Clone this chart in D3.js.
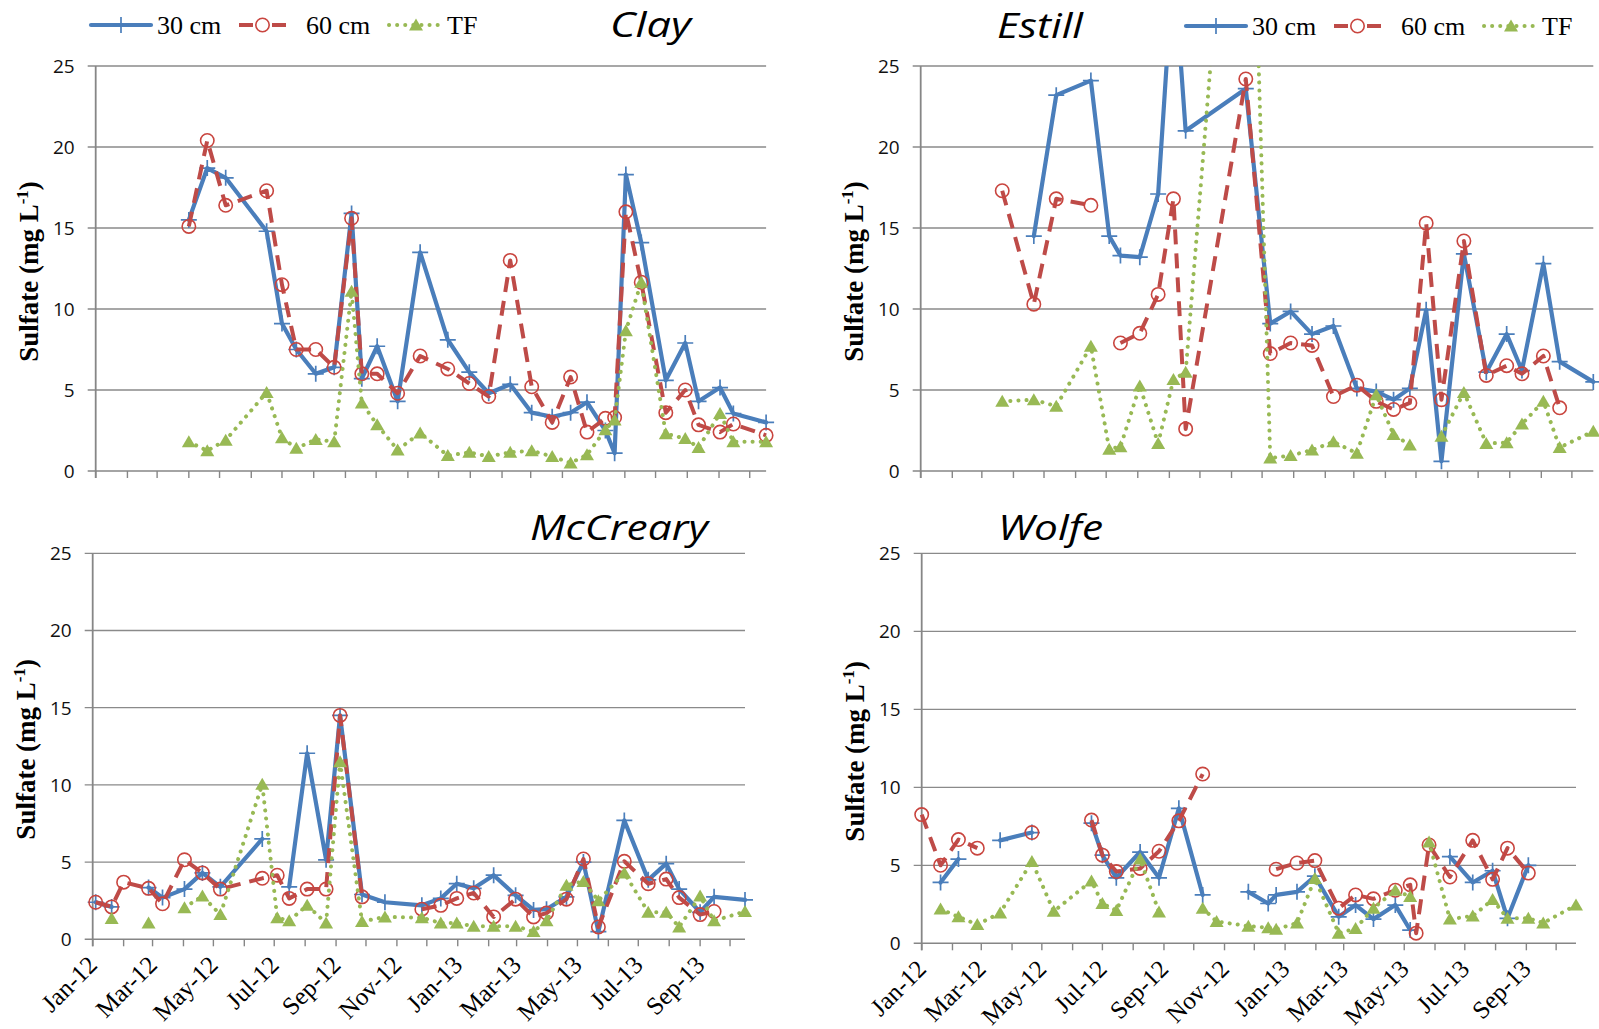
<!DOCTYPE html>
<html>
<head>
<meta charset="utf-8">
<script src="https://cdn.jsdelivr.net/npm/d3@7"></script>
<style>
  body { margin: 0; background: #ffffff; }
  svg { display: block; }
</style>
</head>
<body>
<svg id="fig" width="1599" height="1029"></svg>
<script>
// Sulfate (mg L-1) in soil water at 30 cm and 60 cm depth and in throughfall (TF),
// four sites, Jan 2012 - Oct 2013. null = no sample (line breaks there).

const clayDates = ["2012-04-01","2012-04-19","2012-05-07","2012-06-16","2012-07-01","2012-07-15","2012-08-03","2012-08-21","2012-09-07","2012-09-17","2012-10-02","2012-10-22","2012-11-13","2012-12-10","2012-12-31","2013-01-19","2013-02-09","2013-03-02","2013-03-22","2013-04-09","2013-04-25","2013-05-13","2013-05-22","2013-06-02","2013-06-17","2013-07-11","2013-07-30","2013-08-12","2013-09-02","2013-09-15","2013-10-17"];
const clay30 = [15.5,18.7,18.1,14.8,9.1,7.5,6.0,6.4,15.9,5.7,7.7,4.3,13.5,8.1,6.1,4.8,5.35,3.6,3.35,3.6,4.25,2.5,1.1,18.3,14.1,5.6,7.9,4.3,5.15,3.55,3.0];
const clay60 = [15.1,20.4,16.4,17.3,11.5,7.5,7.5,6.4,15.6,6.0,6.0,4.8,7.1,6.3,5.4,4.6,13.0,5.2,3.0,5.8,2.4,3.25,3.3,16.0,11.65,3.6,5.0,2.85,2.4,2.9,2.2];
const clayTF = [1.8,1.25,1.9,4.85,2.05,1.4,1.95,1.8,11.1,4.2,2.85,1.3,2.35,0.95,1.15,0.9,1.15,1.25,0.9,0.5,1.0,2.55,3.15,8.65,11.65,2.3,2.0,1.45,3.55,1.8,1.8];

const estillDates = ["2012-03-21","2012-04-21","2012-05-13","2012-06-16","2012-07-04","2012-07-15","2012-08-03","2012-08-21","2012-09-05","2012-09-17","2012-11-15","2012-12-09","2012-12-29","2013-01-19","2013-02-09","2013-03-04","2013-03-23","2013-04-09","2013-04-25","2013-05-11","2013-05-26","2013-06-17","2013-07-09","2013-07-29","2013-08-13","2013-09-03","2013-09-19","2013-10-22"];
const estill30 = [null,14.5,23.2,24.1,14.5,13.3,13.2,17.1,31.5,21.0,23.6,9.1,9.85,8.45,8.95,5.1,4.9,4.4,5.1,9.95,0.6,13.4,6.1,8.45,6.2,12.8,6.75,5.5];
const estill60 = [17.3,10.3,16.8,16.4,null,7.9,8.5,10.9,16.8,2.6,24.2,7.25,7.9,7.75,4.6,5.3,4.3,3.8,4.2,15.3,4.4,14.2,5.9,6.5,6.0,7.1,3.9,null];
const estillTF = [4.3,4.4,4.0,7.7,1.35,1.5,5.25,1.7,5.65,6.1,52,0.8,0.95,1.3,1.8,1.1,4.7,2.25,1.6,null,2.15,4.85,1.7,1.75,2.9,4.3,1.45,2.45];

const mccrearyDates = ["2012-01-04","2012-01-20","2012-02-01","2012-02-26","2012-03-11","2012-04-02","2012-04-20","2012-05-08","2012-06-19","2012-07-04","2012-07-16","2012-08-03","2012-08-22","2012-09-05","2012-09-27","2012-10-20","2012-11-26","2012-12-15","2012-12-31","2013-01-17","2013-02-06","2013-02-28","2013-03-18","2013-03-31","2013-04-20","2013-05-07","2013-05-22","2013-06-17","2013-07-11","2013-07-29","2013-08-11","2013-09-01","2013-09-15","2013-10-16"];
const mccreary30 = [2.4,2.1,null,3.35,2.7,3.25,4.3,3.4,6.5,null,3.4,12.05,5.15,14.5,2.9,2.4,2.2,2.65,3.6,3.3,4.15,2.85,1.9,1.95,2.75,5.0,0.5,7.7,3.85,4.9,3.25,1.75,2.75,2.55];
const mccreary60 = [2.4,2.1,3.7,3.3,2.3,5.15,4.3,3.25,3.95,4.15,2.65,3.25,3.25,14.5,2.75,null,1.95,2.2,2.65,3.0,1.45,2.6,1.45,1.7,2.6,5.2,0.8,5.05,3.6,3.9,2.7,1.6,1.8,null];
const mccrearyTF = [null,1.35,null,1.05,null,2.05,2.8,1.6,10.05,1.4,1.2,2.2,1.05,11.5,1.15,1.45,1.4,1.05,1.05,0.85,0.85,0.85,0.5,1.2,3.5,3.75,2.5,4.3,1.75,1.75,0.8,2.8,1.2,1.8];

const wolfeDates = ["2012-01-01","2012-01-20","2012-02-07","2012-02-26","2012-03-20","2012-04-21","2012-05-13","2012-06-20","2012-07-01","2012-07-15","2012-08-08","2012-08-27","2012-09-16","2012-10-10","2012-10-24","2012-11-25","2012-12-15","2012-12-23","2013-01-13","2013-01-31","2013-02-24","2013-03-13","2013-03-31","2013-04-22","2013-05-07","2013-05-13","2013-05-26","2013-06-16","2013-07-09","2013-07-29","2013-08-13","2013-09-03","2013-09-18","2013-10-21"];
const wolfe30 = [null,3.9,5.4,null,6.6,7.1,null,7.7,5.65,4.2,5.85,4.2,8.65,3.1,null,3.3,2.55,3.1,3.3,4.3,1.7,2.45,1.55,2.45,0.85,null,null,5.55,3.9,4.65,1.6,5.0,null,null];
const wolfe60 = [8.25,5.0,6.65,6.1,null,7.1,null,7.9,5.65,4.6,4.8,5.9,7.85,10.85,null,null,null,4.75,5.15,5.3,2.25,3.1,2.85,3.4,3.75,0.65,6.3,4.25,6.6,4.1,6.1,4.5,null,null];
const wolfeTF = [null,2.2,1.7,1.2,1.95,5.25,2.05,4.0,2.55,2.1,5.4,2.0,null,2.25,1.4,1.1,1.0,0.9,1.3,4.15,0.65,0.95,2.25,3.4,3.0,null,6.5,1.55,1.75,2.8,1.6,1.6,1.3,2.45];

const seriesNames = ["30 cm", "60 cm", "TF"];
const yTicks = [0, 5, 10, 15, 20, 25];
const axisStart = "2012-01-01";

// ---- layout & style ----
const parse = d3.timeParse("%Y-%m-%d");
const fmt = d3.timeFormat("%b-%y");
const colors = { s30: "#4a7ebb", s60: "#be4b48", tf: "#98b954", grid: "#8a8a8a", axis: "#868686" };
const serif = "'Liberation Serif', 'Times New Roman', serif";

const panels = [
  { title: "Clay", dates: clayDates, series: [clay30, clay60, clayTF],
    box: { l: 95.7, r: 766.1, t: 66, b: 471 }, titlePos: [610, 37], titleW: 81, legend: [91, 25], xLabels: false },
  { title: "Estill", dates: estillDates, series: [estill30, estill60, estillTF],
    box: { l: 920.7, r: 1593.3, t: 66, b: 471 }, titlePos: [997, 38], titleW: 86, legend: [1186, 26], xLabels: false },
  { title: "McCreary", dates: mccrearyDates, series: [mccreary30, mccreary60, mccrearyTF],
    box: { l: 92.7, r: 745, t: 553.3, b: 939.3 }, titlePos: [530, 540], titleW: 178, legend: null, xLabels: true },
  { title: "Wolfe", dates: wolfeDates, series: [wolfe30, wolfe60, wolfeTF],
    box: { l: 921.7, r: 1576, t: 553.3, b: 943.3 }, titlePos: [998, 540], titleW: 105, legend: null, xLabels: true }
];

const svg = d3.select("#fig");
svg.append("rect").attr("width", 1599).attr("height", 1029).attr("fill", "#fff");
const defs = svg.append("defs");

const styles = [
  { key: "s30", color: colors.s30, width: 4.2, dash: null, cap: "round", legendDash: null },
  { key: "s60", color: colors.s60, width: 4.0, dash: "15 9", cap: "butt", legendDash: "14 19 14" },
  { key: "tf",  color: colors.tf,  width: 4.0, dash: "0.1 8", cap: "round", legendDash: "0.1 8" }
];

function drawMarker(g, key, x, y) {
  if (key === "s30") {
    g.append("path")
      .attr("d", `M${x - 8},${y}H${x + 8}M${x},${y - 8}V${y + 8}`)
      .attr("stroke", colors.s30).attr("stroke-width", 1.7).attr("fill", "none");
  } else if (key === "s60") {
    g.append("circle").attr("cx", x).attr("cy", y).attr("r", 6.7)
      .attr("fill", "none").attr("stroke", "#c9453f").attr("stroke-width", 1.6);
  } else {
    g.append("path")
      .attr("d", `M${x},${y - 6.5}L${x + 7},${y + 5.5}L${x - 7},${y + 5.5}Z`)
      .attr("fill", colors.tf);
  }
}

panels.forEach((p, pi) => {
  const { l, r, t, b } = p.box;
  const dates = p.dates.map(parse);
  const x = d3.scaleTime().domain([parse(axisStart), d3.max(dates)]).range([l, r]);
  const y = d3.scaleLinear().domain([0, 25]).range([b, t]);
  const g = svg.append("g");

  // horizontal gridlines (extend left as y ticks)
  g.selectAll("line.grid").data(yTicks.filter(v => v > 0)).join("line")
    .attr("x1", l - 8).attr("x2", r)
    .attr("y1", d => y(d)).attr("y2", d => y(d))
    .attr("stroke", colors.grid).attr("stroke-width", 1.3);

  // axes
  g.append("line").attr("x1", l - 8).attr("x2", r).attr("y1", b).attr("y2", b)
    .attr("stroke", colors.axis).attr("stroke-width", 1.6);
  g.append("line").attr("x1", l).attr("x2", l).attr("y1", t).attr("y2", b + 7)
    .attr("stroke", colors.axis).attr("stroke-width", 1.8);

  // monthly ticks
  const months = d3.timeMonth.range(parse(axisStart), d3.timeDay.offset(x.domain()[1], 1));
  g.selectAll("line.xt").data(months).join("line")
    .attr("x1", d => x(d)).attr("x2", d => x(d))
    .attr("y1", b).attr("y2", b + 7)
    .attr("stroke", colors.axis).attr("stroke-width", 1.4);

  // y tick labels
  g.selectAll("text.yl").data(yTicks).join("text")
    .attr("x", l - 21).attr("y", d => y(d)).attr("dy", "0.36em")
    .attr("text-anchor", "end")
    .attr("font-family", "'Open Sans', sans-serif").attr("font-size", 19)
    .attr("fill", "#111")
    .text(d => d);

  // x tick labels (bottom row only)
  if (p.xLabels) {
    g.selectAll("text.xl").data(months.filter(d => d.getMonth() % 2 === 0)).join("text")
      .attr("transform", d => `translate(${x(d) + 6},${b + 27}) rotate(-45)`)
      .attr("text-anchor", "end")
      .attr("font-family", serif).attr("font-size", 25)
      .attr("fill", "#000")
      .text(d => fmt(d));
  }

  // y axis title
  const yt = g.append("text")
    .attr("transform", `translate(${l - 67},${(t + b) / 2 + 3}) rotate(-90)`)
    .attr("text-anchor", "middle").attr("dy", "0.35em")
    .attr("font-family", serif)
    .attr("font-weight", "bold").attr("font-size", 27).attr("fill", "#000");
  yt.append("tspan").text("Sulfate (mg L");
  yt.append("tspan").attr("dy", -10).attr("font-size", 17).text("-1");
  yt.append("tspan").attr("dy", 10).text(")");

  // panel title
  g.append("text").attr("x", p.titlePos[0]).attr("y", p.titlePos[1])
    .attr("font-family", "'Open Sans', sans-serif").attr("font-style", "italic")
    .attr("font-size", 34).attr("fill", "#000")
    .attr("textLength", p.titleW).attr("lengthAdjust", "spacingAndGlyphs")
    .text(p.title);

  // data (clipped at the top of the plot area)
  const clipId = "clip" + pi;
  defs.append("clipPath").attr("id", clipId).append("rect")
    .attr("x", l - 20).attr("y", t).attr("width", r - l + 40).attr("height", b - t + 20);
  const dg = g.append("g").attr("clip-path", `url(#${clipId})`);

  p.series.forEach((vals, si) => {
    const st = styles[si];
    const pts = dates.map((d, i) => ({ d, v: vals[i] }));
    const line = d3.line().defined(o => o.v != null).x(o => x(o.d)).y(o => y(o.v));
    dg.append("path").datum(pts)
      .attr("d", line)
      .attr("fill", "none").attr("stroke", st.color)
      .attr("stroke-width", st.width).attr("stroke-linejoin", "round")
      .attr("stroke-linecap", st.cap)
      .attr("stroke-dasharray", st.dash);
    const mg = dg.append("g");
    pts.filter(o => o.v != null).forEach(o => drawMarker(mg, st.key, x(o.d), y(o.v)));
  });

  // legend
  if (p.legend) {
    const [lx, ly] = p.legend;
    const lg = g.append("g");
    const items = [
      { x1: 0, x2: 60, mx: 30, tx: 66 },
      { x1: 148, x2: 195, mx: 171.5, tx: 215 },
      { x1: 298, x2: 352, mx: 325, tx: 356 }
    ];
    items.forEach((it, si) => {
      const st = styles[si];
      lg.append("line").attr("x1", lx + it.x1).attr("x2", lx + it.x2)
        .attr("y1", ly).attr("y2", ly)
        .attr("stroke", st.color).attr("stroke-width", st.width)
        .attr("stroke-linecap", st.cap).attr("stroke-dasharray", st.legendDash);
      drawMarker(lg, st.key, lx + it.mx, ly);
      lg.append("text").attr("x", lx + it.tx).attr("y", ly).attr("dy", "0.34em")
        .attr("font-family", serif)
        .attr("font-size", 26).attr("fill", "#000")
        .text(seriesNames[si]);
    });
  }
});
</script>
</body>
</html>
